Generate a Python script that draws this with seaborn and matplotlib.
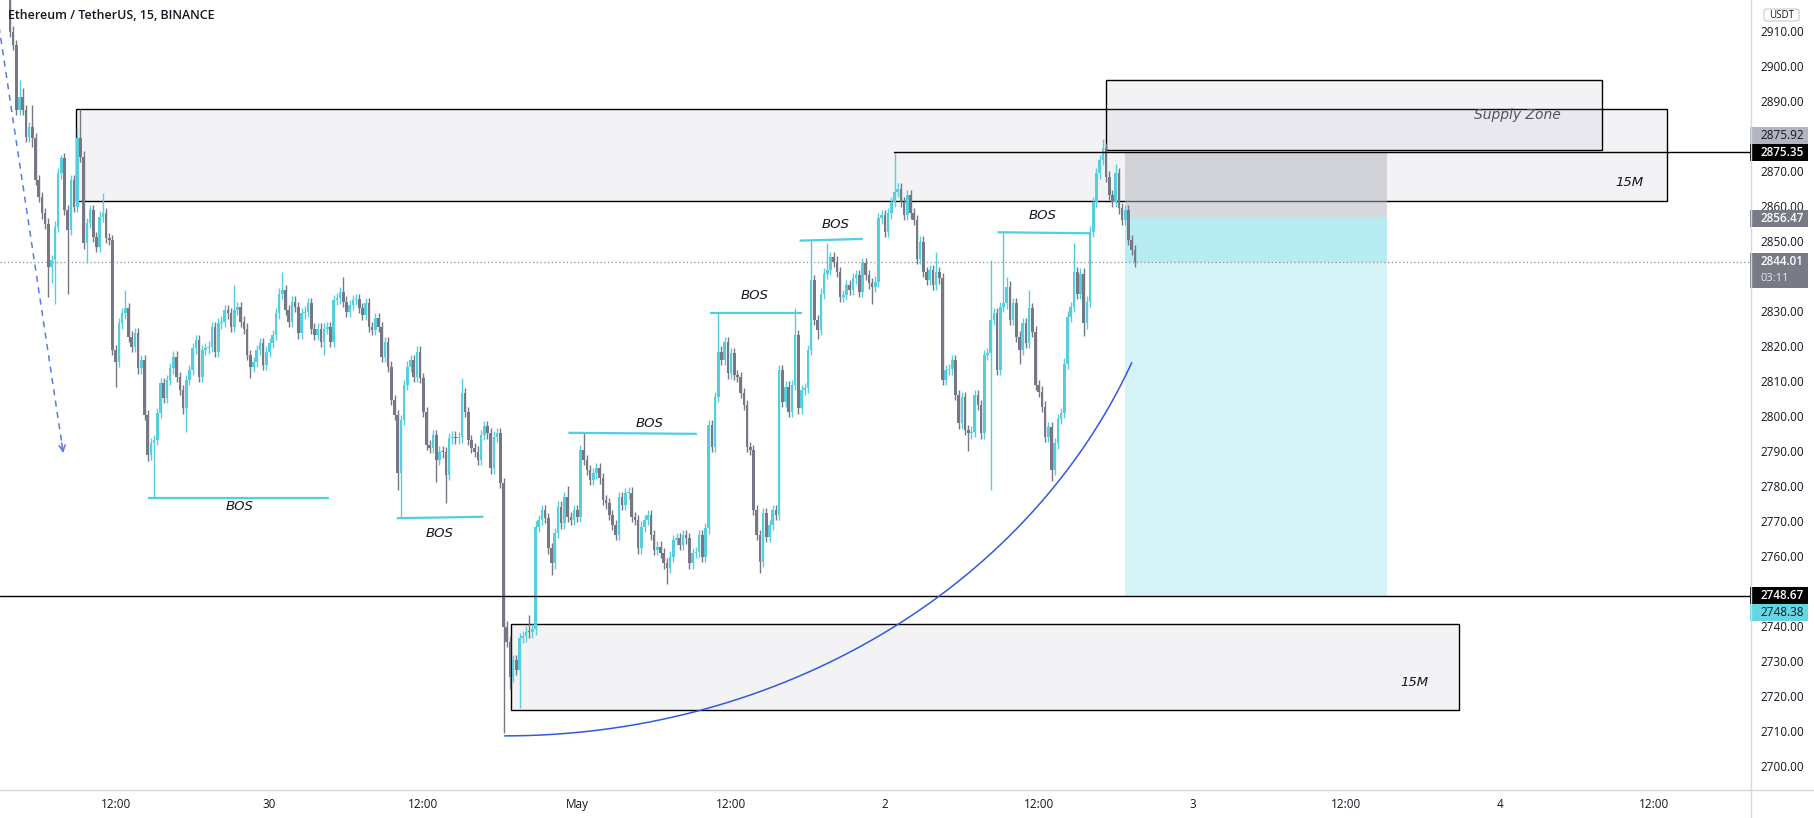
import numpy as np
import pandas as pd
import matplotlib
matplotlib.use("Agg")
import matplotlib.pyplot as plt
import matplotlib.transforms as mtransforms
from matplotlib.patches import Rectangle, FancyBboxPatch
from matplotlib.lines import Line2D
import seaborn as sns

sns.set_theme(style="white")
plt.rcParams["font.family"] = ["Open Sans", "DejaVu Sans"]

# ---------------- data (ETHUSDT 15m) ----------------
first_open = 2922.0
start_hour = 3.75          # hours after 29 Apr 00:00 of the first candle
bar_hours = 0.25
closes = [
    2909.8, 2906.0, 2887.4, 2891.2, 2887.4, 2879.8, 2882.6, 2879.3, 2867.4, 2862.6,
    2857.9, 2855.0, 2842.7, 2844.6, 2854.1, 2869.3, 2873.6, 2858.9, 2853.1, 2867.4,
    2859.8, 2879.3, 2874.1, 2849.3, 2855.1, 2858.9, 2851.2, 2848.4, 2857.0, 2857.9,
    2850.8, 2850.3, 2818.9, 2815.5, 2826.5, 2829.3, 2830.8, 2822.7, 2819.8, 2823.6,
    2813.6, 2816.0, 2800.3, 2788.9, 2792.2, 2793.2, 2800.8, 2809.3, 2805.1, 2810.3,
    2813.6, 2817.0, 2811.2, 2807.4, 2802.2, 2810.3, 2813.1, 2819.3, 2821.7, 2811.2,
    2818.9, 2819.3, 2819.8, 2825.5, 2818.4, 2826.5, 2827.0, 2830.3, 2829.3, 2825.5,
    2830.3, 2831.2, 2827.0, 2825.0, 2817.4, 2814.1, 2815.5, 2818.9, 2820.8, 2814.6,
    2818.4, 2820.8, 2823.1, 2829.3, 2835.0, 2836.0, 2830.3, 2827.0, 2832.7, 2831.2,
    2823.6, 2829.3, 2829.8, 2832.2, 2825.0, 2823.1, 2825.0, 2821.2, 2825.0, 2825.3,
    2821.2, 2833.1, 2833.6, 2835.5, 2832.7, 2829.8, 2831.7, 2833.1, 2833.4, 2830.8,
    2828.9, 2832.2, 2825.5, 2824.6, 2827.9, 2825.5, 2816.9, 2821.2, 2814.1, 2804.6,
    2800.3, 2783.6, 2798.9, 2808.9, 2814.1, 2816.0, 2811.2, 2818.4, 2810.8, 2801.2,
    2791.7, 2790.8, 2794.6, 2787.4, 2789.8, 2789.6, 2783.1, 2793.6, 2794.1, 2793.6,
    2793.9, 2806.5, 2801.2, 2793.1, 2790.8, 2789.8, 2787.4, 2794.6, 2797.0, 2795.0,
    2785.0, 2794.1, 2795.0, 2780.8, 2739.8, 2735.5, 2725.5, 2730.3, 2727.4, 2736.5,
    2737.0, 2738.4, 2738.2, 2739.0, 2768.4, 2770.3, 2773.1, 2770.8, 2762.2, 2757.9,
    2766.5, 2774.1, 2769.3, 2776.9, 2771.2, 2770.3, 2773.1, 2771.2, 2790.3, 2787.4,
    2784.6, 2781.7, 2783.6, 2785.0, 2782.2, 2776.0, 2775.0, 2771.7, 2768.9, 2766.0,
    2776.9, 2774.6, 2777.9, 2778.1, 2771.2, 2770.3, 2762.2, 2768.4, 2770.3, 2771.7,
    2766.0, 2761.7, 2762.7, 2760.8, 2757.9, 2756.5, 2759.8, 2764.6, 2765.0, 2763.1,
    2766.0, 2765.0, 2757.9, 2760.8, 2761.0, 2766.0, 2759.8, 2767.9, 2797.4, 2791.2,
    2805.5, 2818.4, 2816.0, 2821.2, 2812.2, 2817.9, 2811.7, 2811.2, 2806.5, 2803.1,
    2791.2, 2790.3, 2773.1, 2766.0, 2758.4, 2772.2, 2765.5, 2768.9, 2773.1, 2771.7,
    2813.1, 2804.1, 2808.4, 2801.2, 2808.9, 2823.1, 2802.2, 2807.4, 2808.0, 2818.9,
    2838.8, 2827.4, 2824.6, 2835.0, 2840.7, 2841.7, 2845.5, 2844.1, 2841.2, 2834.1,
    2834.6, 2837.4, 2836.0, 2839.3, 2840.3, 2835.5, 2843.6, 2840.3, 2837.9, 2837.0,
    2838.4, 2856.5, 2857.4, 2852.7, 2857.9, 2861.2, 2864.1, 2865.0, 2861.2, 2857.4,
    2863.1, 2857.9, 2856.0, 2845.0, 2849.8, 2841.2, 2838.8, 2841.7, 2837.4, 2841.2,
    2839.3, 2810.3, 2813.1, 2813.3, 2816.0, 2806.0, 2797.9, 2805.5, 2796.0, 2795.0,
    2795.5, 2806.0, 2803.1, 2795.0, 2817.4, 2817.9, 2827.4, 2829.3, 2813.1, 2831.2,
    2832.2, 2837.0, 2827.4, 2832.2, 2822.7, 2818.9, 2826.5, 2820.8, 2830.8, 2824.1,
    2808.9, 2807.0, 2802.7, 2794.1, 2796.9, 2784.5, 2792.2, 2799.1, 2800.8, 2815.0,
    2828.4, 2831.2, 2841.2, 2835.0, 2840.7, 2826.5, 2832.7, 2852.7, 2861.2, 2869.3,
    2873.1, 2876.5, 2868.4, 2863.1, 2861.2, 2869.3, 2859.3, 2856.0, 2858.9, 2850.3,
    2847.4, 2844.01,
]
# wick extremes that stand out in the picture (candle index -> price)
notable_highs = {0: 2925, 3: 2896, 4: 2893.6, 7: 2888.9, 16: 2874.6, 21: 2882.2, 22: 2887.6,
                 29: 2863.6, 36: 2836, 70: 2837.4, 85: 2841.2, 104: 2839.8, 141: 2810.8,
                 162: 2743, 174: 2780, 179: 2795.0, 221: 2829.3, 245: 2831, 250: 2850.3,
                 255: 2849.5, 276: 2875.35, 289: 2847, 306: 2844.6, 310: 2852.5, 311: 2839.8,
                 318: 2836, 332: 2849.5, 341: 2879.2, 345: 2872}
notable_lows = {7: 2877, 12: 2834, 13: 2838, 14: 2832, 18: 2835, 24: 2843.6, 33: 2808.4,
                43: 2787, 45: 2776.7, 55: 2795.5, 75: 2810.8, 98: 2817.4, 121: 2778.9,
                122: 2770.8, 133: 2781.2, 136: 2775.0, 154: 2709.5, 156: 2722, 159: 2716.5,
                169: 2754.6, 205: 2752, 234: 2755, 252: 2822, 269: 2832, 299: 2790,
                306: 2778.9, 315: 2815, 325: 2781.5, 335: 2823}
typical_wick = 1.5

tick_hours = [12, 24, 36, 48, 60, 72, 84, 96, 108, 120, 132]
tick_labels = ["12:00", "30", "12:00", "May", "12:00", "2", "12:00", "3", "12:00", "4", "12:00"]
price_ticks = list(range(2700, 2911, 10))

stop_price = 2875.35
entry_price = 2856.47
target_price = 2748.38
last_price = 2844.01
supply_bottom = 2875.92
level_low = 2748.67
countdown = "03:11"

# ---------------- build candle table ----------------
n = len(closes)
hours = start_hour + bar_hours * np.arange(n)
opens = np.r_[first_open, closes[:-1]]
cl = np.array(closes)
highs = np.maximum(opens, cl) + typical_wick
lows = np.minimum(opens, cl) - typical_wick
for k, v in notable_highs.items():
    highs[k] = v
for k, v in notable_lows.items():
    lows[k] = v
df = pd.DataFrame(dict(hour=hours, open=opens, close=cl, high=highs, low=lows))
df["up"] = df.close >= df.open

UP = "#55cedd"
DOWN = "#767985"
TXT = "#131722"

W, H = 1814, 818
fig = plt.figure(figsize=(W / 100, H / 100), dpi=100, facecolor="white")
ax = fig.add_axes([0, 28 / H, 1750 / W, 790 / H])
ax.set_facecolor("white")
x0, x1 = 2.975, 139.48
y0, y1 = 2693.14, 2918.86
ax.set_xlim(x0, x1)
ax.set_ylim(y0, y1)
for s in ax.spines.values():
    s.set_visible(False)
ppd = 790 / (y1 - y0)      # pixels per price unit
pph = 1750 / (x1 - x0)     # pixels per hour

# ---------------- zones / boxes ----------------
box_fc = (0.55, 0.55, 0.69, 0.10)
def zone(h_a, h_b, p_a, p_b):
    ax.add_patch(Rectangle((h_a, p_a), h_b - h_a, p_b - p_a, facecolor=box_fc,
                           edgecolor="black", lw=1.0, zorder=1))

zone(8.93, 133.03, 2861.4, 2887.6)          # upper 15M
zone(89.27, 127.97, supply_bottom, 2896.1)  # supply zone
zone(42.84, 116.75, 2716.0, 2740.5)         # lower 15M

# short position tool
pos_a, pos_b = 90.72, 111.19
ax.add_patch(Rectangle((pos_a, entry_price), pos_b - pos_a, stop_price - entry_price,
                       facecolor="#b2b5be", alpha=0.5, edgecolor="none", zorder=1.5))
ax.add_patch(Rectangle((pos_a, target_price), pos_b - pos_a, entry_price - target_price,
                       facecolor="#d3f3f7", edgecolor="none", zorder=1.4))
ax.add_patch(Rectangle((pos_a, last_price), pos_b - pos_a, entry_price - last_price,
                       facecolor="#b6ebf2", edgecolor="none", zorder=1.45))

# horizontal levels
ax.plot([72.73, x1], [stop_price, stop_price], color="black", lw=1.0, zorder=4)
ax.axhline(level_low, color="black", lw=1.0, zorder=4)
ax.axhline(last_price, color="#8a8d99", lw=0.9, ls=(0, (1, 2)), zorder=2)

# ---------------- candles ----------------
colors = np.where(df.up, UP, DOWN)
ax.vlines(df.hour, df.low, df.high, colors=colors, lw=1.0, zorder=3)
body_h = np.maximum((df.close - df.open).abs(), 0.35)
ax.bar(df.hour, body_h, bottom=np.minimum(df.open, df.close), width=2.6 / pph,
       color=colors, edgecolor="none", zorder=3.1)

# ---------------- BOS lines ----------------
BOS_C = "#4fcfdf"
bos_lines = [((14.52, 28.61), (2776.7, 2776.7)),
             ((33.92, 40.68), (2770.8, 2771.2)),
             ((47.31, 57.33), (2795.2, 2794.9)),
             ((58.37, 65.52), (2829.3, 2829.3)),
             ((65.34, 70.28), (2850.1, 2850.6)),
             ((80.78, 87.96), (2852.5, 2852.2))]
for xs, ys in bos_lines:
    ax.plot(xs, ys, color=BOS_C, lw=1.6, zorder=4, solid_capstyle="butt")
bos_text = [(21.66, 2774.0), (37.28, 2766.5), (53.65, 2797.9),
            (61.84, 2834.4), (68.12, 2854.6), (84.33, 2857.2)]
for hx, py in bos_text:
    ax.text(hx, py, "BOS", ha="center", va="center", fontsize=9.5, style="italic",
            family="DejaVu Sans", color=TXT, zorder=5)

ax.text(130.07, 2866.6, "15M", ha="center", va="center", fontsize=9.5, style="italic",
        family="DejaVu Sans", color=TXT, zorder=5)
ax.text(113.29, 2723.8, "15M", ha="center", va="center", fontsize=9.5, style="italic",
        family="DejaVu Sans", color=TXT, zorder=5)
ax.text(121.33, 2886.1, "Supply Zone", ha="center", va="center", fontsize=10, style="italic",
        family="DejaVu Sans", color="#50535e", zorder=5)

# ---------------- blue curve ----------------
t = np.radians(np.linspace(-90, -22.2, 200))
ax.plot(42.33 + 52.84 * np.cos(t), 2880.0 + 171.4 * np.sin(t), color="#3159e0", lw=1.1, zorder=4)

# ---------------- dashed arrow ----------------
ARW = "#5b7be0"
ax.plot([2.8, 7.91], [2913.6, 2789.43], color=ARW, lw=1.1, ls=(0, (4, 3.5)), zorder=4)
ax.annotate("", xy=(7.91, 2789.43), xytext=(7.79, 2792.3),
            arrowprops=dict(arrowstyle="->", color=ARW, lw=1.1, mutation_scale=11,
                            shrinkA=0, shrinkB=0), zorder=4)

# ---------------- price tags (positions) ----------------
tag_h = 17 / ppd
tags = [
    (stop_price + tag_h, f"{supply_bottom:.2f}", "#b2b5be", TXT, "normal"),
    (stop_price, f"{stop_price:.2f}", "#000000", "white", "semibold"),
    (entry_price, f"{entry_price:.2f}", "#787b86", "white", "semibold"),
    (level_low, f"{level_low:.2f}", "#000000", "white", "semibold"),
    (level_low - tag_h, f"{target_price:.2f}", "#64d6e4", TXT, "normal"),
]
last_top = last_price + 9 / ppd
last_h = 35 / ppd

def covered(p):
    """scale labels hidden under a price tag (as on the price scale)"""
    for c, *_ in tags:
        if abs(p - c) * ppd < 17 / 2 + 2:
            return True
    return (last_top - last_h) < p < last_top

# ---------------- axes ticks ----------------
ax.yaxis.tick_right()
ax.set_yticks(price_ticks)
ax.set_yticklabels(["" if covered(p) else f"{p:.2f}" for p in price_ticks])
ax.tick_params(axis="y", length=0, pad=7.2, labelsize=8.5, labelcolor=TXT)
ax.set_xticks(tick_hours)
ax.set_xticklabels(tick_labels)
ax.tick_params(axis="x", length=0, pad=6, labelsize=8.5, labelcolor=TXT)
ax.grid(False)

# frame lines of the price / time scales
fig.add_artist(Line2D([0, 1], [28 / H, 28 / H], color="#d6d8de", lw=1.0))
fig.add_artist(Line2D([1750.5 / W, 1750.5 / W], [0, 1], color="#d6d8de", lw=1.0))

# ---------------- draw price tags ----------------
blend = mtransforms.blended_transform_factory(ax.transAxes, ax.transData)
for center, label, bg, fg, weight in tags:
    ax.add_patch(Rectangle((1.0, center - tag_h / 2), 58 / 1750, tag_h, transform=blend,
                           facecolor=bg, edgecolor="none", clip_on=False, zorder=10))
    ax.text(1760 / 1750, center, label, transform=blend, ha="left", va="center",
            fontsize=8.5, color=fg, fontweight=weight, clip_on=False, zorder=11)

ax.add_patch(Rectangle((1.0, last_top - last_h), 58 / 1750, last_h, transform=blend,
                       facecolor="#787b86", edgecolor="none", clip_on=False, zorder=10))
ax.text(1760 / 1750, last_price, f"{last_price:.2f}", transform=blend, ha="left", va="center",
        fontsize=8.3, color="white", fontweight="semibold", clip_on=False, zorder=11)
ax.text(1760 / 1750, last_price - 16.5 / ppd, countdown, transform=blend, ha="left", va="center",
        fontsize=8.0, color="#e8e9ec", clip_on=False, zorder=11)

# currency badge
fig.add_artist(FancyBboxPatch((1764 / W, 1 - 21 / H), 35 / W, 12 / H,
                              boxstyle="round,pad=0,rounding_size=0.002",
                              transform=fig.transFigure, facecolor="white",
                              edgecolor="#c8cad0", lw=0.8))
fig.text(1781.5 / W, 1 - 15 / H, "USDT", ha="center", va="center", fontsize=7, color=TXT)

# title
fig.text(8 / W, 1 - 15.5 / H, "Ethereum / TetherUS, 15, BINANCE", ha="left", va="center",
         fontsize=8.9, fontweight="semibold", color=TXT)

fig.savefig("out.png", dpi=100, facecolor="white")
